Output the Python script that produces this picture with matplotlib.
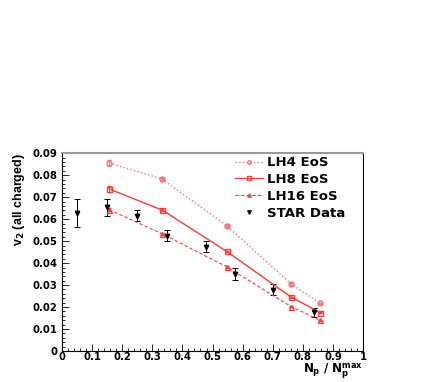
import matplotlib
matplotlib.use("Agg")
import matplotlib.pyplot as plt
from matplotlib.ticker import MultipleLocator
from matplotlib.lines import Line2D

plt.rcParams['font.family'] = ['DejaVu Sans']
plt.rcParams['mathtext.fontset'] = 'custom'
plt.rcParams['mathtext.rm'] = 'DejaVu Sans:bold'
plt.rcParams['mathtext.it'] = 'DejaVu Sans:bold'
plt.rcParams['mathtext.bf'] = 'DejaVu Sans:bold'

# model curves (hydro, different EoS)
x_model = [0.157, 0.333, 0.547, 0.761, 0.857]
lh4 = [0.0855, 0.0782, 0.0570, 0.0305, 0.0217]
lh8 = [0.0737, 0.0641, 0.0453, 0.0245, 0.0175]
lh16 = [0.0643, 0.0533, 0.0383, 0.0202, 0.0140]
lh4_err = [0.0015, 0.0006, 0.0004, 0.0003, 0.0003]
lh8_err = [0.0015, 0.0006, 0.0004, 0.0003, 0.0003]
lh16_err = [0.0006, 0.0005, 0.0003, 0.0003, 0.0003]

# STAR data
x_star = [0.051, 0.151, 0.249, 0.348, 0.477, 0.575, 0.700, 0.838]
v2_star = [0.0628, 0.0653, 0.0615, 0.0525, 0.0475, 0.0352, 0.0278, 0.0176]
err_star = [0.0063, 0.0038, 0.0025, 0.0025, 0.0024, 0.0027, 0.0025, 0.0022]

fig = plt.figure(figsize=(4.36, 3.82), dpi=100)
ax = fig.add_axes([0.142, 0.081, 0.691, 0.518])

pink = '#ff7070'
red = '#ff3b3b'
ax.errorbar(x_model, lh4, yerr=lh4_err, color=pink, ls=':', lw=1,
            marker='o', ms=3.6, mfc='none', mec=pink, capsize=1.5,
            elinewidth=0.7)
ax.errorbar(x_model, lh8, yerr=lh8_err, color=red, ls='-', lw=1,
            marker='s', ms=3.6, mfc='none', mec=red, capsize=1.5,
            elinewidth=0.7)
ax.errorbar(x_model, lh16, yerr=lh16_err, color=red, ls=(0, (3, 2)), lw=0.8,
            marker='^', ms=3.6, mfc='none', mec=red, capsize=1.5,
            elinewidth=0.7)
ax.errorbar(x_star, v2_star, yerr=err_star, color='black', ls='none',
            marker='v', ms=3.2, capsize=2, elinewidth=0.7, capthick=0.7)

ax.set_xlim(0, 1)
ax.set_ylim(0, 0.09)
ax.xaxis.set_major_locator(MultipleLocator(0.1))
ax.xaxis.set_minor_locator(MultipleLocator(0.02))
ax.yaxis.set_major_locator(MultipleLocator(0.01))
ax.yaxis.set_minor_locator(MultipleLocator(0.002))
ax.tick_params(which='both', direction='in', top=False, right=False,
               labelsize=7.3, width=0.6)
ax.tick_params(which='major', length=5)
ax.tick_params(which='minor', length=2.5)
ax.tick_params(axis='x', pad=0.5)
ax.tick_params(axis='y', pad=3)
ax.set_xticks([0, 0.1, 0.2, 0.3, 0.4, 0.5, 0.6, 0.7, 0.8, 0.9, 1.0])
ax.set_xticklabels(['0', '0.1', '0.2', '0.3', '0.4', '0.5', '0.6', '0.7',
                    '0.8', '0.9', '1'], fontweight='bold')
ax.set_yticks([0, 0.01, 0.02, 0.03, 0.04, 0.05, 0.06, 0.07, 0.08, 0.09])
ax.set_yticklabels(['0', '0.01', '0.02', '0.03', '0.04', '0.05', '0.06',
                    '0.07', '0.08', '0.09'], fontweight='bold')
ax.spines['top'].set_color('#999999')
ax.spines['top'].set_linewidth(1.5)
for s in ['left', 'bottom', 'right']:
    ax.spines[s].set_linewidth(0.8)

fig.text(363 / 436, 9 / 382, r'$\mathbf{N_p\ /\ N_p^{max}}$', fontsize=8.5,
         ha='right', va='baseline')
fig.text(19 / 436, 1 - 153 / 382, r'v$_\mathbf{2}$ (all charged)',
         family='Liberation Sans', fontsize=9, fontweight='bold',
         rotation=90, ha='center', va='top')

handles = [
    Line2D([], [], color=pink, ls=':', lw=1, marker='o', ms=2.5, mfc='none'),
    Line2D([], [], color=red, ls='-', lw=1, marker='s', ms=2.5, mfc='none'),
    Line2D([], [], color=red, ls=(0, (3, 2)), lw=0.8, marker='^', ms=2.5,
           mfc='none'),
    Line2D([], [], color='black', ls='none', marker='v', ms=2.5),
]
labels = ['LH4 EoS', 'LH8 EoS', 'LH16 EoS', 'STAR Data']
ax.legend(handles, labels, loc='upper left', bbox_to_anchor=(0.575, 0.985),
          frameon=False, prop={'weight': 'bold', 'size': 9.5},
          handlelength=2.1, handletextpad=0.35, borderpad=0,
          borderaxespad=0, labelspacing=0.3)

fig.savefig('out.png', dpi=100)
